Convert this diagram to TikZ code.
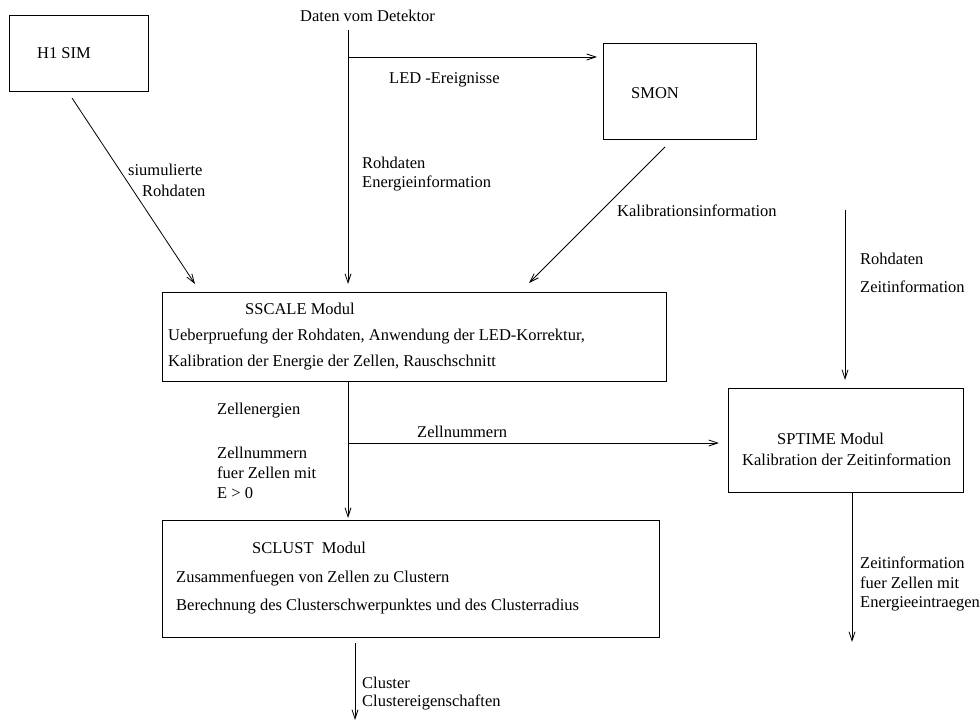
\documentclass[tikz,border=0pt]{standalone}
\usepackage{fontspec}
\setmainfont{Liberation Serif}
\usetikzlibrary{arrows.meta}
\begin{document}
\begin{tikzpicture}[x=1pt,y=-1pt,
  box/.style={draw, line width=1pt, inner sep=0pt, outer sep=0pt},
  lbl/.style={inner sep=0pt, anchor=west, font=\fontsize{16.5}{19.8}\selectfont},
  arr/.style={line width=0.8pt, -{Straight Barb[length=9pt,width=6pt,line width=0.8pt]}},
  ln/.style={line width=0.8pt}]
\useasboundingbox (0,0) rectangle (980,723);

% boxes
\node[box, minimum width=139pt, minimum height=76pt] (h1) at (78.5,53) {};
\node[box, minimum width=153pt, minimum height=96pt] (smon) at (679.5,91) {};
\node[box, minimum width=504pt, minimum height=89pt] (sscale) at (414,336.5) {};
\node[box, minimum width=235pt, minimum height=104pt] (sptime) at (845.5,440) {};
\node[box, minimum width=497pt, minimum height=117pt] (sclust) at (410.5,578.5) {};

% box texts
\node[lbl] (th1) at (37,53) {H1 SIM};
\node[lbl] (tsmon) at (631,93) {SMON};
\node[lbl] (tsc1) at (245,309) {SSCALE Modul};
\node[lbl] (tsc2) at (168,336) {Ueberpruefung der Rohdaten, Anwendung der LED-Korrektur,};
\node[lbl] (tsc3) at (168,363) {Kalibration der Energie der Zellen, Rauschschnitt};
\node[lbl] (tsp1) at (777,439) {SPTIME Modul};
\node[lbl] (tsp2) at (742,460) {Kalibration der Zeitinformation};
\node[lbl] (tcl1) at (252,548) {SCLUST\ \ Modul};
\node[lbl] (tcl2) at (176,578) {Zusammenfuegen von Zellen zu Clustern};
\node[lbl] (tcl3) at (176,607) {Berechnung des Clusterschwerpunktes und des Clusterradius};

% connector labels
\node[lbl] (ldet) at (300,16) {Daten vom Detektor};
\node[lbl] (lsim1) at (128,170) {siumulierte};
\node[lbl] (lsim2) at (142,191) {Rohdaten};
\node[lbl] (lled) at (389,80) {LED -Ereignisse};
\node[lbl] (lroh1) at (362,163) {Rohdaten};
\node[lbl] (lroh2) at (362,183) {Energieinformation};
\node[lbl] (lkal) at (617,211) {Kalibrationsinformation};
\node[lbl] (lrz1) at (860,259) {Rohdaten};
\node[lbl] (lrz2) at (860,287) {Zeitinformation};
\node[lbl] (lze) at (217,411) {Zellenergien};
\node[lbl] (lzn) at (417,432) {Zellnummern};
\node[lbl] (lzn1) at (217,453) {Zellnummern};
\node[lbl] (lzn2) at (217,473) {fuer Zellen mit};
\node[lbl] (lzn3) at (217,493) {E > 0};
\node[lbl] (lzt1) at (860,563) {Zeitinformation};
\node[lbl] (lzt2) at (860,583) {fuer Zellen mit};
\node[lbl] (lzt3) at (860,604) {Energieeintraegen};
\node[lbl] (lcl1) at (362,683) {Cluster};
\node[lbl] (lcl2) at (362,702) {Clustereigenschaften};

% coordinates
\coordinate (simA) at (72,98);
\coordinate (simB) at (195,284);
\coordinate (detA) at (348,30);
\coordinate (detB) at (348,284);
\coordinate (ledA) at (348,57);
\coordinate (ledB) at (597,57);
\coordinate (kalA) at (665,147);
\coordinate (kalB) at (529,283);
\coordinate (rzA) at (845,210);
\coordinate (rzB) at (845,380);
\coordinate (scA) at (348,381);
\coordinate (scB) at (348,518);
\coordinate (znA) at (348,443);
\coordinate (znB) at (719,443);
\coordinate (spA) at (852,492);
\coordinate (spB) at (852,642);
\coordinate (clA) at (355,643);
\coordinate (clB) at (355,720);

% connectors
\draw[arr] (simA) -- (simB);
\draw[arr] (detA) -- (detB);
\draw[arr] (ledA) -- (ledB);
\draw[arr] (kalA) -- (kalB);
\draw[arr] (rzA) -- (rzB);
\draw[arr] (scA) -- (scB);
\draw[arr] (znA) -- (znB);
\draw[arr] (spA) -- (spB);
\draw[arr] (clA) -- (clB);
\end{tikzpicture}
\end{document}
